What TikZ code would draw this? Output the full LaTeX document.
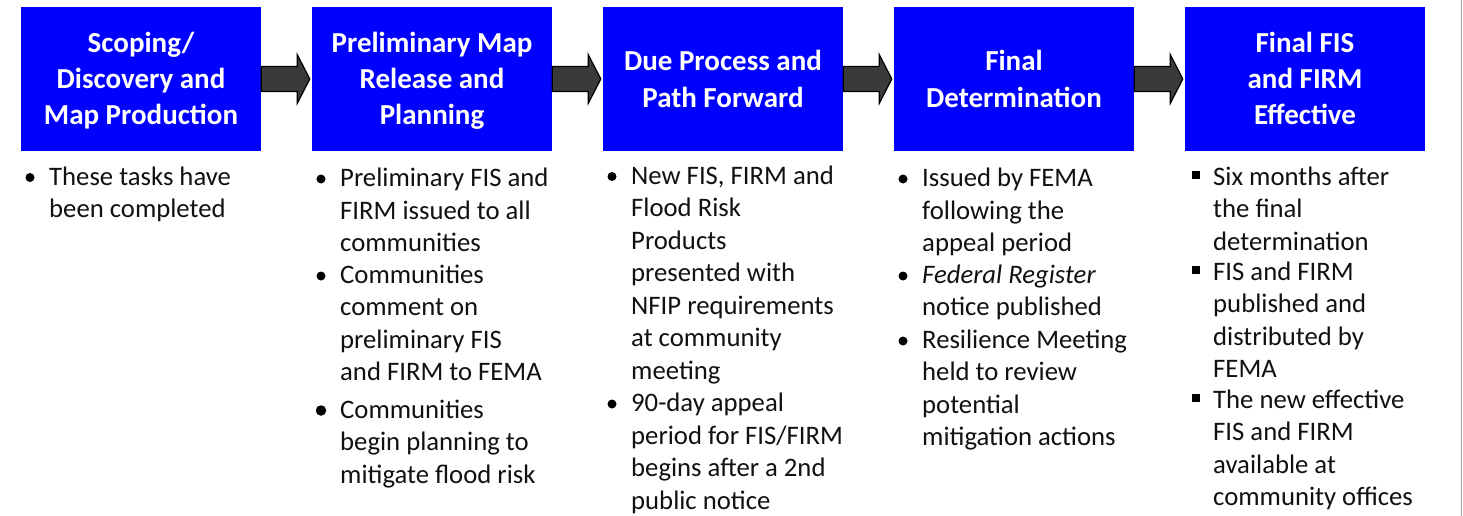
\documentclass[tikz,border=0pt]{standalone}
\usepackage{fontspec}
\setmainfont{Carlito}
\usetikzlibrary{calc}
\definecolor{boxblue}{HTML}{0000FF}
\definecolor{arrfill}{HTML}{3A3A3A}
\definecolor{edgegray}{HTML}{A0A0A0}
\definecolor{bodytext}{HTML}{111111}
\begin{document}
\begin{tikzpicture}[x=1pt,y=-1pt,
 box/.style={rectangle, fill=boxblue, minimum width=240pt, minimum height=144pt, inner sep=0pt},
 head/.style={text=white, align=center, inner sep=0pt, font=\bfseries\fontsize{29}{36}\selectfont},
 itemtxt/.style={anchor=north west, inner sep=0pt, align=left, text=bodytext, font=\fontsize{26.7}{32.5}\selectfont},
 bul/.style={circle, fill=black, minimum size=9pt, inner sep=0pt},
 sqbul/.style={rectangle, fill=black, minimum size=8pt, inner sep=0pt},
 arr/.style={fill=arrfill, draw=black, line width=1.2pt, line join=miter}]
\useasboundingbox (0,0) rectangle (1463,516);
\fill[white] (0,0) rectangle (1463,516);
\draw[edgegray, line width=1.5pt] (1461.5,0) -- (1461.5,516);

% boxes
\node[box] (b1) at (141,79) {};
\node[box] (b2) at (432,79) {};
\node[box] (b3) at (723,79) {};
\node[box] (b4) at (1014,79) {};
\node[box] (b5) at (1305,79) {};

\node[head] (h1) at ($(b1.center)+(0,2.8)$) {\strut Scoping/\\Discovery and\\Map Production\strut};
\node[head] (h2) at ($(b2.center)+(0,2.8)$) {\strut Preliminary Map\\Release and\\Planning\strut};
\node[head] (h3) at ($(b3.center)+(0,2.8)$) {\strut Due Process and\\Path Forward\strut};
\node[head] (h4) at ($(b4.center)+(0,2.8)$) {\strut Final\\Determination\strut};
\node[head] (h5) at ($(b5.center)+(0,2.8)$) {\strut Final FIS\\and FIRM\\Effective\strut};

% arrows
\foreach \a/\b in {b1/b2,b2/b3,b3/b4,b4/b5}{
  \draw[arr] ($(\a.east)+(0,-12.5)$) -- ($(\a.east)+(36,-12.5)$) -- ($(\a.east)+(36,-24.5)$)
    -- ($(\b.west)+(-2,0)$) -- ($(\a.east)+(36,24.5)$) -- ($(\a.east)+(36,12.5)$)
    -- ($(\a.east)+(0,12.5)$) -- cycle;
}

% column 1
\node[bul] (d11) at (30,177.5) {};
\node[itemtxt] (t11) at (49,162.25) {\strut These tasks have\\been completed};

% column 2
\node[bul] (d21) at (321,179) {};
\node[itemtxt] (t21) at (340,164) {\strut Preliminary FIS and\\FIRM issued to all\\communities};
\node[bul] (d22) at (321,276) {};
\node[itemtxt] (t22) at (340,260.5) {\strut Communities\\comment on\\preliminary FIS\\and FIRM to FEMA};
\node[bul, minimum size=10.5pt] (d23) at (321,410.5) {};
\node[itemtxt] (t23) at (340,395.5) {\strut Communities\\begin planning to\\mitigate flood risk};

% column 3
\node[bul] (d31) at (612,176.5) {};
\node[itemtxt] (t31) at (631,161.25) {\strut New FIS, FIRM and\\Flood Risk\\Products\\presented with\\NFIP requirements\\at community\\meeting};
\node[bul] (d32) at (612,404) {};
\node[itemtxt] (t32) at (631,389) {\strut 90-day appeal\\period for FIS/FIRM\\begins after a 2nd\\public notice};

% column 4
\node[bul] (d41) at (903,179) {};
\node[itemtxt] (t41) at (922,163.75) {\strut Issued by FEMA\\following the\\appeal period};
\node[bul] (d42) at (903,276) {};
\node[itemtxt] (t42) at (922,260.5) {\strut\textit{Federal Register}\\notice published};
\node[bul] (d43) at (903,341) {};
\node[itemtxt] (t43) at (922,325.5) {\strut Resilience Meeting\\held to review\\potential\\mitigation actions};

% column 5
\node[sqbul] (s51) at (1195.5,174.5) {};
\node[itemtxt] (t51) at (1213,162.25) {\strut Six months after\\the final\\determination};
\node[sqbul] (s52) at (1195.5,269.5) {};
\node[itemtxt] (t52) at (1213,257.25) {\strut FIS and FIRM\\published and\\distributed by\\FEMA};
\node[sqbul] (s53) at (1195.5,398) {};
\node[itemtxt] (t53) at (1213,385.5) {\strut The new effective\\FIS and FIRM\\available at\\community offices};
\end{tikzpicture}
\end{document}
